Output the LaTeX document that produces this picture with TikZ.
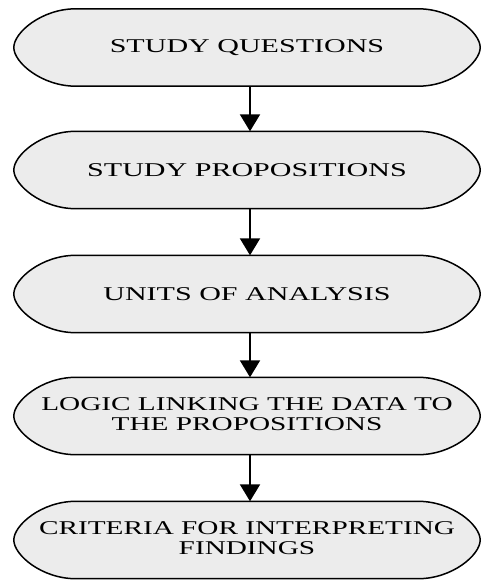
\documentclass[tikz,border=0pt]{standalone}
\usepackage{fontspec}
\setmainfont{Liberation Serif}
\usetikzlibrary{arrows.meta,backgrounds,calc}
\definecolor{boxfill}{RGB}{236,236,236}
\begin{document}
\begin{tikzpicture}[x=1pt,y=-1pt,
  stagebox/.style={minimum width=466pt, minimum height=77pt, inner sep=0pt,
    font=\fontsize{19.5}{20}\selectfont},
  stageoutline/.style={line width=1.5pt, fill=boxfill},
  link/.style={-{Triangle[width=20pt,length=17pt]}, line width=2pt}]
\useasboundingbox (0,0) rectangle (481,580);
\node[stagebox] (q) at (247,47.5) {\scalebox{1.54}[1]{STUDY QUESTIONS}};
\node[stagebox] (p) at (247,170) {\scalebox{1.54}[1]{STUDY PROPOSITIONS}};
\node[stagebox] (u) at (247,294) {\scalebox{1.54}[1]{UNITS OF ANALYSIS}};
\node[stagebox] (l) at (247,416) {\scalebox{1.5}[1]{\begin{tabular}{@{}c@{}}LOGIC LINKING THE DATA TO\\THE PROPOSITIONS\end{tabular}}};
\node[stagebox] (c) at (247,540) {\scalebox{1.5}[1]{\begin{tabular}{@{}c@{}}CRITERIA FOR INTERPRETING\\FINDINGS\end{tabular}}};
\begin{scope}[on background layer]
\foreach \n in {q,p,u,l,c}{
  \draw[stageoutline] ($(\n.north west)+(62,0)$) -- ($(\n.north east)+(-62,0)$)
    .. controls ($(\n.north east)+(-28,0)$) and ($(\n.east)+(0,-15)$) .. (\n.east)
    .. controls ($(\n.east)+(0,15)$) and ($(\n.south east)+(-28,0)$) .. ($(\n.south east)+(-62,0)$)
    -- ($(\n.south west)+(62,0)$)
    .. controls ($(\n.south west)+(28,0)$) and ($(\n.west)+(0,15)$) .. (\n.west)
    .. controls ($(\n.west)+(0,-15)$) and ($(\n.north west)+(28,0)$) .. ($(\n.north west)+(62,0)$)
    -- cycle;
}
\end{scope}
\draw[link] ([xshift=3pt]q.south) -- ([xshift=3pt]p.north);
\draw[link] ([xshift=3pt]p.south) -- ([xshift=3pt]u.north);
\draw[link] ([xshift=3pt]u.south) -- ([xshift=3pt]l.north);
\draw[link] ([xshift=3pt]l.south) -- ([xshift=3pt]c.north);
\end{tikzpicture}
\end{document}
